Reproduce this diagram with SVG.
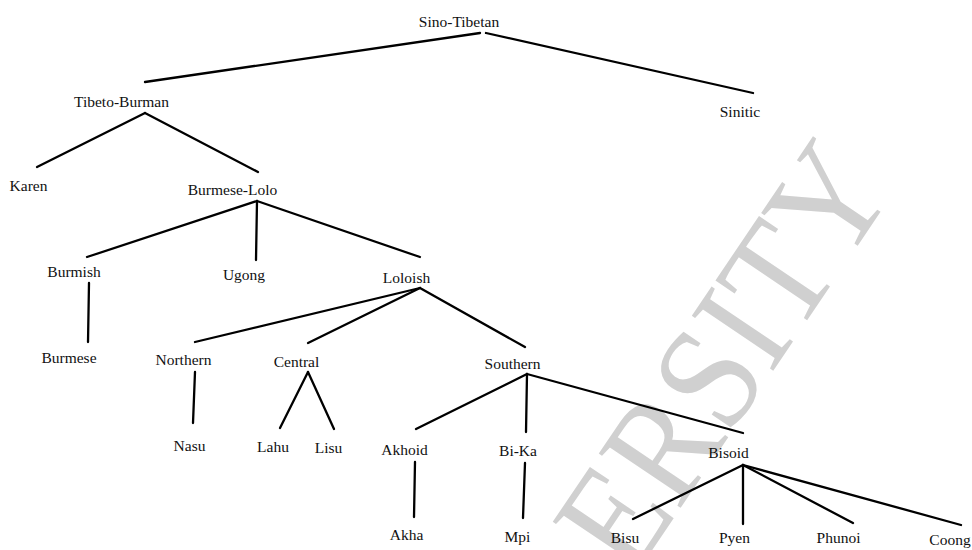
<svg xmlns="http://www.w3.org/2000/svg" width="972" height="550" viewBox="0 0 972 550">
<style>
.bg{fill:#ffffff}
.wm{font-family:"Liberation Serif","Times New Roman",serif;font-size:150px;fill:#d0d0d0}
.lbl{font-family:"Liberation Serif","Times New Roman",serif;font-size:15.5px;fill:#111111;text-anchor:middle}
.edge{stroke:#000000;stroke-width:2.3;stroke-linecap:round;fill:none}
</style>
<rect class="bg" x="0" y="0" width="972" height="550"/>
<text class="wm" transform="translate(632,580) rotate(-56) scale(0.9,1)">ERSITY</text>
<g id="connectors">
<line class="edge" x1="480" y1="33" x2="145" y2="82"/>
<line class="edge" x1="486" y1="33" x2="753" y2="93"/>
<line class="edge" x1="145" y1="113" x2="37" y2="167"/>
<line class="edge" x1="145" y1="113" x2="258" y2="172"/>
<line class="edge" x1="257" y1="201" x2="87" y2="257"/>
<line class="edge" x1="257" y1="201" x2="256" y2="260"/>
<line class="edge" x1="257" y1="201" x2="420" y2="257"/>
<line class="edge" x1="89" y1="283" x2="88" y2="342"/>
<line class="edge" x1="420" y1="288" x2="195" y2="342"/>
<line class="edge" x1="420" y1="288" x2="308" y2="343"/>
<line class="edge" x1="420" y1="288" x2="525" y2="347"/>
<line class="edge" x1="195" y1="372" x2="193" y2="423"/>
<line class="edge" x1="308" y1="372" x2="280" y2="428"/>
<line class="edge" x1="308" y1="372" x2="334" y2="429"/>
<line class="edge" x1="527" y1="374" x2="416" y2="429"/>
<line class="edge" x1="527" y1="374" x2="526" y2="432"/>
<line class="edge" x1="527" y1="374" x2="743" y2="433"/>
<line class="edge" x1="415" y1="462" x2="414" y2="517"/>
<line class="edge" x1="525" y1="463" x2="523" y2="518"/>
<line class="edge" x1="743" y1="465" x2="633" y2="519"/>
<line class="edge" x1="743" y1="465" x2="743" y2="524"/>
<line class="edge" x1="743" y1="465" x2="853" y2="523"/>
<line class="edge" x1="743" y1="465" x2="961" y2="525"/>
</g>
<g id="sino-tibetan"><text class="lbl" x="459" y="27">Sino-Tibetan</text></g>
<g id="tibeto-burman"><text class="lbl" x="121.5" y="107">Tibeto-Burman</text></g>
<g id="sinitic"><text class="lbl" x="740" y="117">Sinitic</text></g>
<g id="karen"><text class="lbl" x="28.5" y="191">Karen</text></g>
<g id="burmese-lolo"><text class="lbl" x="232.5" y="195">Burmese-Lolo</text></g>
<g id="burmish"><text class="lbl" x="74" y="277">Burmish</text></g>
<g id="ugong"><text class="lbl" x="244" y="280">Ugong</text></g>
<g id="loloish"><text class="lbl" x="406.5" y="283">Loloish</text></g>
<g id="burmese"><text class="lbl" x="69" y="363">Burmese</text></g>
<g id="northern"><text class="lbl" x="183.5" y="365">Northern</text></g>
<g id="central"><text class="lbl" x="296.5" y="367">Central</text></g>
<g id="southern"><text class="lbl" x="512.5" y="369">Southern</text></g>
<g id="nasu"><text class="lbl" x="189.5" y="451">Nasu</text></g>
<g id="lahu"><text class="lbl" x="273" y="452">Lahu</text></g>
<g id="lisu"><text class="lbl" x="328.5" y="453">Lisu</text></g>
<g id="akhoid"><text class="lbl" x="404.5" y="455">Akhoid</text></g>
<g id="bi-ka"><text class="lbl" x="518" y="456">Bi-Ka</text></g>
<g id="bisoid"><text class="lbl" x="728.5" y="458">Bisoid</text></g>
<g id="akha"><text class="lbl" x="406.5" y="540">Akha</text></g>
<g id="mpi"><text class="lbl" x="517.5" y="542">Mpi</text></g>
<g id="bisu"><text class="lbl" x="625" y="543">Bisu</text></g>
<g id="pyen"><text class="lbl" x="734.5" y="543">Pyen</text></g>
<g id="phunoi"><text class="lbl" x="838.5" y="543">Phunoi</text></g>
<g id="coong"><text class="lbl" x="950" y="545">Coong</text></g>
</svg>
